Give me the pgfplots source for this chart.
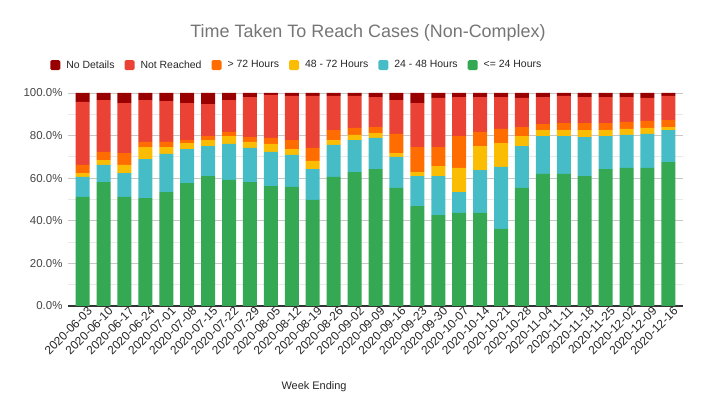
\documentclass[border=0pt]{standalone}
\usepackage{fontspec}
\setmainfont{Liberation Sans}
\usepackage{pgfplots}
\usepackage{pgfplotstable}
\pgfplotsset{compat=1.18}
\definecolor{cG}{HTML}{34A853}
\definecolor{cT}{HTML}{46BDC6}
\definecolor{cY}{HTML}{FBBC04}
\definecolor{cO}{HTML}{FF6D01}
\definecolor{cR}{HTML}{EA4335}
\definecolor{cD}{HTML}{990000}
\definecolor{titlegray}{HTML}{757575}
\definecolor{labgray}{HTML}{444444}
\pgfplotstableread{
x g t y o r d
0 51.2 9.4 1.8 3.8 29.6 4.2
1 58.2 8.0 2.3 3.8 24.4 3.3
2 51.2 11.2 3.8 5.6 23.5 4.7
3 50.7 18.3 5.6 2.4 19.7 3.3
4 53.5 17.9 3.2 2.4 19.2 3.8
5 57.7 16.0 2.8 1.4 17.4 4.7
6 61.0 14.1 2.8 1.9 15.0 5.2
7 59.2 16.9 3.7 1.9 15.0 3.3
8 58.2 16.0 2.8 2.3 18.8 1.9
9 56.3 16.0 3.8 2.8 20.2 0.9
10 55.9 15.0 2.8 4.2 20.7 1.4
11 49.8 14.5 3.8 6.1 24.4 1.4
12 60.6 15.0 2.3 4.7 16.0 1.4
13 62.9 15.0 2.4 3.3 15.0 1.4
14 64.3 14.6 2.3 2.8 14.1 1.9
15 55.4 14.6 1.8 9.0 15.9 3.3
16 46.9 14.1 1.9 11.7 20.7 4.7
17 42.7 18.3 4.7 8.9 23.1 2.3
18 43.7 9.8 11.3 15.0 18.3 1.9
19 43.7 20.1 11.3 6.6 16.4 1.9
20 36.2 29.1 11.2 6.6 15.0 1.9
21 55.4 19.7 4.7 4.2 13.7 2.3
22 62.0 17.8 2.8 2.8 12.7 1.9
23 62.0 17.8 2.8 3.3 12.7 1.4
24 61.0 18.3 3.3 3.3 12.2 1.9
25 64.3 15.5 2.8 3.3 12.2 1.9
26 64.8 15.5 2.8 3.3 11.7 1.9
27 64.8 16.0 2.8 3.3 10.8 2.3
28 67.6 15.0 1.4 3.3 11.3 1.4
}\data
\begin{document}
\begin{tikzpicture}
\path[use as bounding box] (0,0) rectangle (703bp,415bp);
\begin{axis}[
  at={(68bp,109bp)}, anchor=south west,
  scale only axis, width=615bp, height=213bp,
  ybar stacked, bar width=14bp,
  xmin=-0.7, xmax=28.7, ymin=0, ymax=100,
  /pgf/number format/assume math mode=true,
  xtick={0,...,28},
  xticklabels={2020-06-03,2020-06-10,2020-06-17,2020-06-24,2020-07-01,2020-07-08,2020-07-15,2020-07-22,2020-07-29,2020-08-05,2020-08-12,2020-08-19,2020-08-26,2020-09-02,2020-09-09,2020-09-16,2020-09-23,2020-09-30,2020-10-07,2020-10-14,2020-10-21,2020-10-28,2020-11-04,2020-11-11,2020-11-18,2020-11-25,2020-12-02,2020-12-09,2020-12-16},
  x tick label style={rotate=45, anchor=north east, font=\fontsize{12}{12}\selectfont, text=black!85, inner sep=1pt, xshift=4bp, yshift=-2bp},
  ytick={0,20,...,100}, minor ytick={10,30,...,90},
  yticklabel={\pgfmathprintnumber[fixed,fixed zerofill,precision=1]{\tick}\%},
  y tick label style={font=\fontsize{11.5}{12}\selectfont, text=labgray, xshift=-2bp},
  ymajorgrids, yminorgrids,
  major grid style={draw=black!22, line width=0.8pt},
  minor grid style={draw=black!9, line width=0.8pt},
  major tick length=0pt, minor tick length=0pt,
  axis x line*=bottom, axis y line*=left,
  y axis line style={draw=none},
  x axis line style={draw=black!80, line width=1.2pt},
  enlarge x limits=false,
  legend style={at={(-0.034,1.131)}, anchor=west, legend columns=-1, draw=none, fill=none,
    font=\fontsize{10.5}{12}\selectfont, text=black!85,
    /tikz/every odd column/.append style={column sep=4bp},
    /tikz/every even column/.append style={column sep=8bp}},
  legend image code/.code={\fill[#1,draw=none,rounded corners=1.5bp] (0bp,-5bp) rectangle (10bp,5bp);},
  reverse legend,
]
\addplot[fill=cG, draw=none] table[x=x,y=g]{\data};
\addplot[fill=cT, draw=none] table[x=x,y=t]{\data};
\addplot[fill=cY, draw=none] table[x=x,y=y]{\data};
\addplot[fill=cO, draw=none] table[x=x,y=o]{\data};
\addplot[fill=cR, draw=none] table[x=x,y=r]{\data};
\addplot[fill=cD, draw=none] table[x=x,y=d]{\data};
\legend{{<= 24 Hours},{24 - 48 Hours},{48 - 72 Hours},{> 72 Hours},{Not Reached},{No Details}}
\end{axis}
\node[text=titlegray, font=\fontsize{18}{20}\selectfont] at (368bp,382bp) {Time Taken To Reach Cases (Non-Complex)};
\node[text=black!85, font=\fontsize{11}{12}\selectfont] at (314bp,28bp) {Week Ending};
\end{tikzpicture}
\end{document}
